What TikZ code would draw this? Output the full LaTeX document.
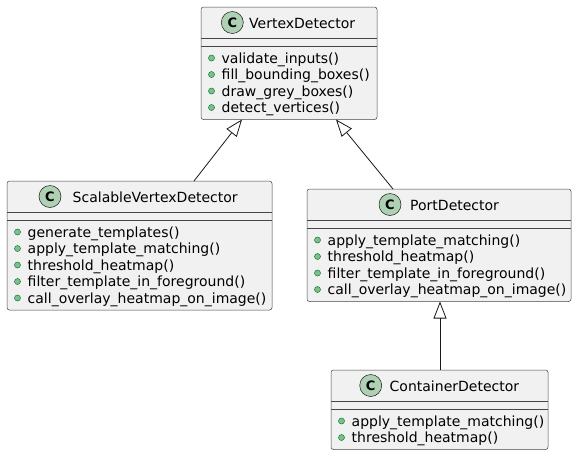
\documentclass[tikz,border=0pt]{standalone}
\usepackage{fontspec}
\setmainfont{DejaVu Sans}
\usetikzlibrary{arrows.meta,calc}
\definecolor{boxfill}{HTML}{F1F1F1}
\definecolor{boxline}{HTML}{181818}
\definecolor{spotfill}{HTML}{ADD1B2}
\definecolor{dotfill}{HTML}{84BE84}
\definecolor{dotline}{HTML}{038048}
\newcommand{\umlclass}[5]{%
  \pgfmathsetmacro\bh{63+16.5*(#5-1)}%
  \node[cbox, minimum width=#4, minimum height=\bh, anchor=north west] (#1) at (#2,#3) {};
  \draw[cline] ($(#1.north west)+(0,31)$) -- ($(#1.north east)+(0,31)$);
  \draw[cline] ($(#1.north west)+(0,39)$) -- ($(#1.north east)+(0,39)$);
}
\tikzset{
  cbox/.style={draw=boxline!80, fill=boxfill, line width=0.5pt, rounded corners=2.5pt, inner sep=0pt, outer sep=0pt},
  cline/.style={draw=boxline!80, line width=0.5pt},
  spot/.style={circle, draw=boxline, fill=spotfill, line width=0.5pt, minimum size=22pt, inner sep=0pt, font=\fontsize{13}{13}\selectfont\bfseries},
  cname/.style={anchor=base west, inner sep=0pt, font=\fontsize{14}{16}\selectfont},
  mdot/.style={circle, draw=dotline, fill=dotfill, line width=0.5pt, minimum size=6pt, inner sep=0pt},
  mtext/.style={anchor=base west, inner sep=0pt, font=\fontsize{14}{16}\selectfont},
  ext/.style={draw=boxline, line width=0.8pt, -{Triangle[open, length=17pt, width=13pt, line width=0.8pt]}}
}
\begin{document}
\begin{tikzpicture}[x=1pt, y=-1pt]
\useasboundingbox (0,0) rectangle (577,456);
\fill[white] (0,0) rectangle (577,456);

% VertexDetector
\umlclass{vd}{201}{7}{176}{4}
\node[spot] (vd-spot) at ($(vd.north west)+(31.3,15.5)$) {C};
\node[cname] (vd-name) at ($(vd.north west)+(48,21.5)$) {VertexDetector};
\foreach \m [count=\i from 0] in {validate\_inputs(), fill\_bounding\_boxes(), draw\_grey\_boxes(), detect\_vertices()} {
  \node[mdot] (vd-d\i) at ($(vd.north west)+(10.5,51+16.5*\i)$) {};
  \node[mtext] (vd-m\i) at ($(vd.north west)+(20.5,56+16.5*\i)$) {\m};
}

% ScalableVertexDetector
\umlclass{svd}{7}{181}{265}{5}
\node[spot] (svd-spot) at ($(svd.north west)+(43,15.5)$) {C};
\node[cname] (svd-name) at ($(svd.north west)+(65.5,21.5)$) {ScalableVertexDetector};
\foreach \m [count=\i from 0] in {generate\_templates(), apply\_template\_matching(), threshold\_heatmap(), filter\_template\_in\_foreground(), call\_overlay\_heatmap\_on\_image()} {
  \node[mdot] (svd-d\i) at ($(svd.north west)+(10.5,51+16.5*\i)$) {};
  \node[mtext] (svd-m\i) at ($(svd.north west)+(20.5,56+16.5*\i)$) {\m};
}

% PortDetector
\umlclass{pd}{307}{189}{264}{4}
\node[spot] (pd-spot) at ($(pd.north west)+(83,15.5)$) {C};
\node[cname] (pd-name) at ($(pd.north west)+(103,21.5)$) {PortDetector};
\foreach \m [count=\i from 0] in {apply\_template\_matching(), threshold\_heatmap(), filter\_template\_in\_foreground(), call\_overlay\_heatmap\_on\_image()} {
  \node[mdot] (pd-d\i) at ($(pd.north west)+(10.5,51+16.5*\i)$) {};
  \node[mtext] (pd-m\i) at ($(pd.north west)+(20.5,56+16.5*\i)$) {\m};
}

% ContainerDetector
\umlclass{cd}{331}{370}{217}{2}
\node[spot] (cd-spot) at ($(cd.north west)+(39.7,15.5)$) {C};
\node[cname] (cd-name) at ($(cd.north west)+(58.5,21.5)$) {ContainerDetector};
\foreach \m [count=\i from 0] in {apply\_template\_matching(), threshold\_heatmap()} {
  \node[mdot] (cd-d\i) at ($(cd.north west)+(10.5,51+16.5*\i)$) {};
  \node[mtext] (cd-m\i) at ($(cd.north west)+(20.5,56+16.5*\i)$) {\m};
}

% inheritance
\draw[ext] ($(svd.north west)+(187,0)$) -- ($(vd.south west)+(41,0)$);
\draw[ext] ($(pd.north west)+(86,0)$) -- ($(vd.south west)+(135,0)$);
\draw[ext] ($(cd.north west)+(109,0)$) -- ($(pd.south west)+(133,0)$);
\end{tikzpicture}
\end{document}
